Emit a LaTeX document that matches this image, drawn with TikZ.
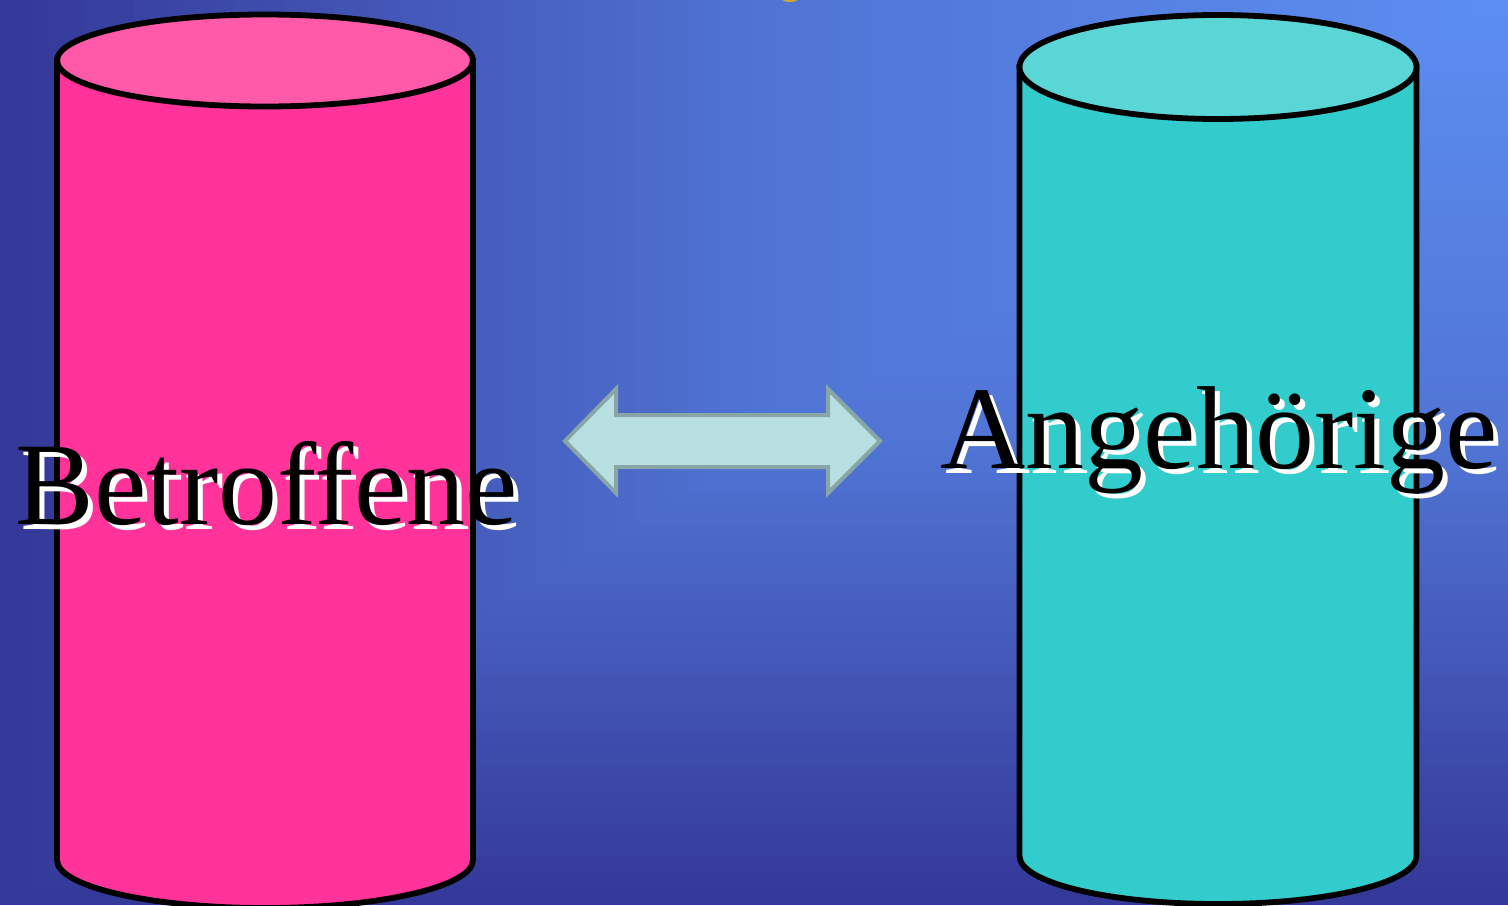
\documentclass[tikz,border=0pt]{standalone}
\usepackage{fontspec}
\setmainfont{Liberation Serif}
\definecolor{bglight}{RGB}{92,142,242}
\definecolor{bgmid}{RGB}{80,116,212}
\definecolor{bgdark}{RGB}{52,56,152}
\definecolor{pinkbody}{RGB}{255,51,153}
\definecolor{pinktop}{RGB}{255,90,170}
\definecolor{tealbody}{RGB}{51,204,204}
\definecolor{tealtop}{RGB}{90,214,214}
\definecolor{arrowfill}{RGB}{184,224,226}
\definecolor{arrowline}{RGB}{136,166,166}
\definecolor{titlegold}{RGB}{200,168,56}
\tikzset{
  cylline/.style={draw=black, line width=2.9pt},
  labeltext/.style={anchor=base west, inner sep=0pt, font=\fontsize{59pt}{61pt}\selectfont},
  shadowtext/.style={labeltext, text=white},
  fronttext/.style={labeltext, text=black},
  dblarrow/.style={fill=arrowfill, draw=arrowline, line width=2pt, line join=miter}
}
\begin{document}
\begin{tikzpicture}[x=0.5pt,y=-0.5pt]
\useasboundingbox (0,0) rectangle (1508,905);
% background: rectangular gradient from top-right corner
\foreach \i in {0,...,90}{
  \pgfmathsetmacro{\s}{1-\i/90}
  \pgfmathsetmacro{\pa}{max(0,min(100,(\s-0.5)*200))}
  \pgfmathsetmacro{\pb}{max(0,min(100,\s*200))}
  \ifdim \s pt > 0.5pt \colorlet{bgc}{bgdark!\pa!bgmid}\else\colorlet{bgc}{bgmid!\pb!bglight}\fi
  \fill[bgc] ({1508*(1-\s)},-1) rectangle (1509,{905*\s});
}
% tiny piece of title glyph at top
\fill[titlegold] (790,0) ellipse[x radius=3.5pt, y radius=1pt];
% left cylinder
\filldraw[cylline, fill=pinkbody] (57,60.5) -- (57,860) arc[start angle=180, end angle=360, x radius=104pt, y radius=24pt] -- (473,60.5) -- cycle;
\filldraw[cylline, fill=pinktop] (265,60.5) ellipse[x radius=104pt, y radius=23pt];
\coordinate (cylL) at (265,470);
% right cylinder
\filldraw[cylline, fill=tealbody] (1019.5,67) -- (1019.5,856) arc[start angle=180, end angle=360, x radius=99.25pt, y radius=24pt] -- (1416.5,67) -- cycle;
\filldraw[cylline, fill=tealtop] (1218,67) ellipse[x radius=99.25pt, y radius=26pt];
\coordinate (cylR) at (1218,470);
% double arrow
\filldraw[dblarrow] (565,441) -- (616,389) -- (616,415) -- (828,415) -- (828,389) -- (880,441) -- (828,493) -- (828,467) -- (616,467) -- (616,493) -- cycle;
% labels with shadow
\node[shadowtext] (betS) at (20,529) {Betroffene};
\node[fronttext] (bet) at (15,524) {Betroffene};
\node[shadowtext] (angS) at (945,473) {Angehörige};
\node[fronttext] (ang) at (940,468) {Angehörige};
\end{tikzpicture}
\end{document}
